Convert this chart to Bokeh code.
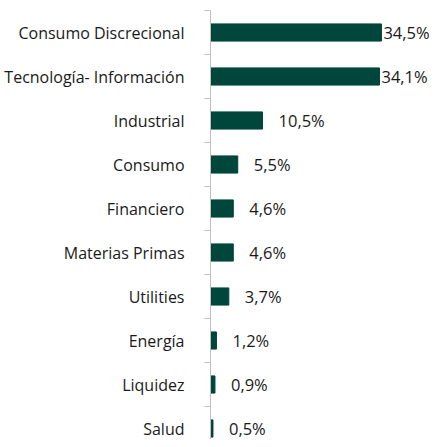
from bokeh.plotting import figure
from bokeh.models import Range1d, FixedTicker, ColumnDataSource
from bokeh.core.properties import value
from bokeh.embed import file_html
from bokeh.resources import INLINE

categories = ["Consumo Discrecional", "Tecnología- Información", "Industrial", "Consumo",
              "Financiero", "Materias Primas", "Utilities", "Energía", "Liquidez", "Salud"]
values = [34.5, 34.1, 10.5, 5.5, 4.6, 4.6, 3.7, 1.2, 0.9, 0.5]
value_labels = [f"{v:.1f}".replace(".", ",") + "%" for v in values]

n = len(categories)
ypos = list(range(n))
offsets = [2 if v > 30 else 16 for v in values]

src = ColumnDataSource(dict(y=ypos, v=values, lab=value_labels, off=offsets, zero=[0] * n))

p = figure(width=429, height=439, output_backend="svg", toolbar_location=None,
           x_range=Range1d(0, 44.2), y_range=Range1d(9.25, -0.5),
           min_border_left=210, min_border_top=10, min_border_right=0, min_border_bottom=0)

p.hbar(y="y", left="zero", right="v", height=0.39, source=src,
       fill_color="#00463A", line_color="#00463A")
p.text(x="v", y="y", text="lab", x_offset="off", source=src,
       text_font=value("Open Sans"), text_font_size="16.5px", text_color="#1a1a1a",
       text_align="left", text_baseline="middle")

p.xaxis.visible = False
p.xgrid.visible = False
p.ygrid.visible = False
p.outline_line_color = None

ya = p.yaxis[0]
ya.ticker = FixedTicker(ticks=ypos, minor_ticks=[i - 0.5 for i in range(n + 1)])
ya.major_label_overrides = {i: c for i, c in enumerate(categories)}
ya.major_tick_line_color = None
ya.major_tick_out = 0
ya.major_tick_in = 0
ya.minor_tick_line_color = "#BFBFBF"
ya.minor_tick_out = 6
ya.minor_tick_in = 0
ya.axis_line_color = "#BFBFBF"
ya.major_label_standoff = 20
ya.major_label_text_font = "Open Sans"
ya.major_label_text_font_size = "16px"
ya.major_label_text_color = "#1a1a1a"

open("out.html", "w").write(file_html(p, INLINE))
